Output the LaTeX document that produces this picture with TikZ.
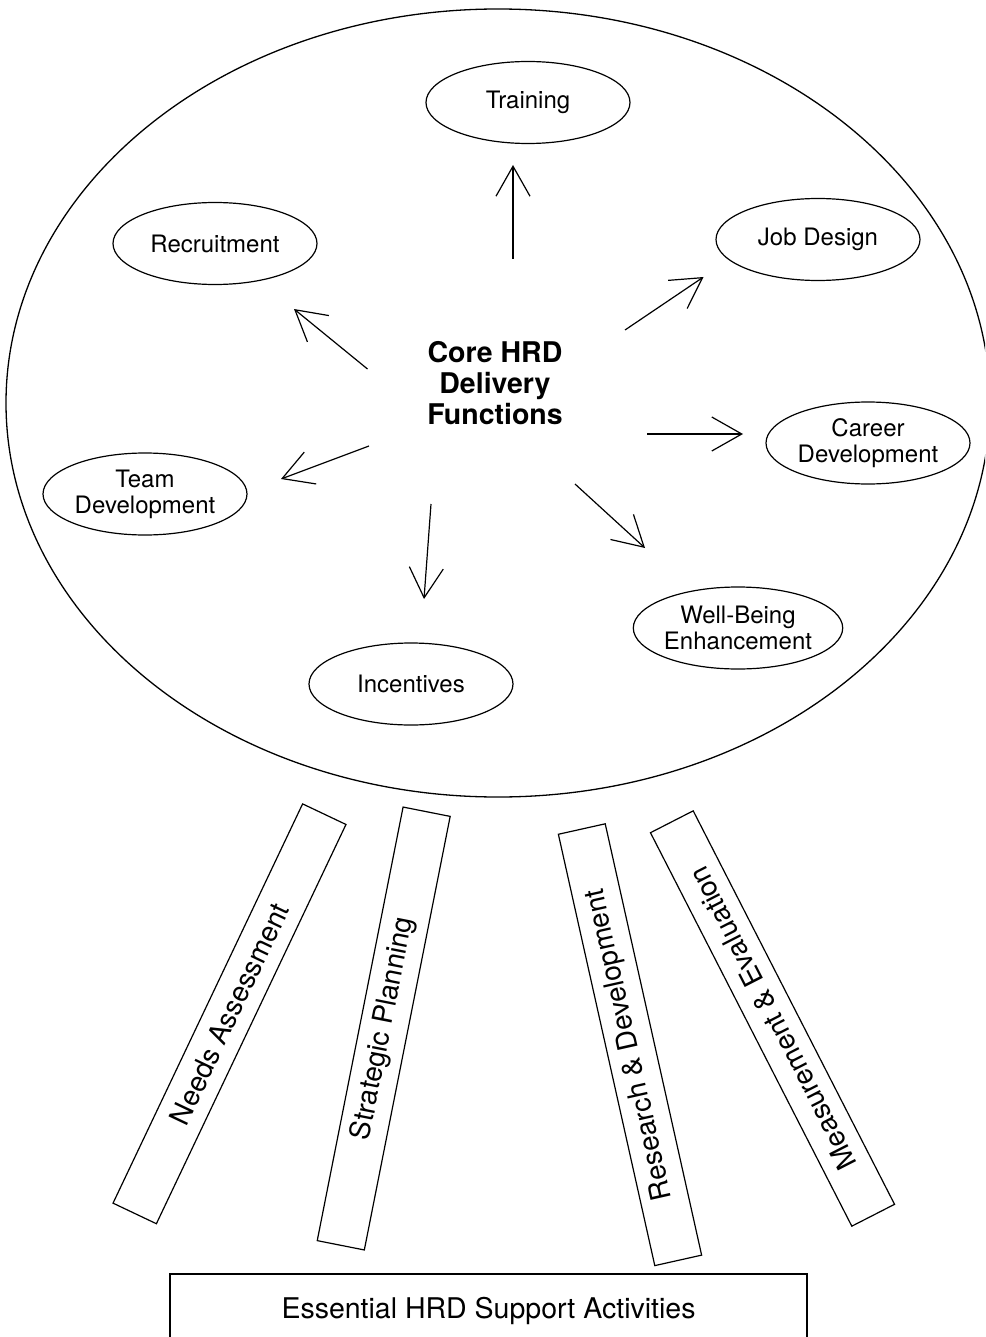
\documentclass[tikz,border=0pt]{standalone}
\usepackage{fontspec}
\setmainfont{TeX Gyre Heros}
\usetikzlibrary{arrows.meta,shapes.geometric}
\begin{document}
\begin{tikzpicture}[x=1pt,y=1pt,
  func/.style={ellipse, draw, line width=1.2pt, minimum width=204pt, minimum height=82pt,
               inner sep=0pt, align=center, font=\fontsize{24}{26}\selectfont},
  pillar/.style={rectangle, draw, line width=1.2pt, minimum width=442pt, minimum height=48pt,
                 inner sep=0pt, font=\fontsize{28}{30}\selectfont},
  arr/.style={line width=1.2pt, -{Straight Barb[length=30pt,width=34pt]}},
]
\clip (0,0) rectangle (985,-1337);

% the large oval holding the delivery functions
\node[ellipse, draw, line width=1.3pt, minimum width=984pt, minimum height=788pt, inner sep=0pt]
  (core) at (498,-403) {};
\node[font=\bfseries\fontsize{28.5}{31}\selectfont, align=center] (coretext) at (495,-383)
  {Core HRD\\Delivery\\Functions};

% delivery functions
\node[func] (training)  at (528,-102.5) {Training};
\node[func] (recruit)   at (215,-243.5) {Recruitment};
\node[func] (jobdesign) at (818,-239.5) {Job Design};
\node[func] (career)    at (868,-443)   {Career\\Development};
\node[func] (team)      at (145,-494)   {Team\\Development};
\node[func] (incent)    at (411,-684)   {Incentives};
\node[func] (wellbeing) at (738,-628)   {Well-Being\\Enhancement};

% arrow end points around the centre text
\coordinate (tr-a) at (513,-259);   \coordinate (tr-b) at (513,-165);
\coordinate (jd-a) at (625,-330);   \coordinate (jd-b) at (703.5,-277);
\coordinate (rc-a) at (367.5,-369); \coordinate (rc-b) at (294,-309);
\coordinate (cd-a) at (647,-434);   \coordinate (cd-b) at (743,-434);
\coordinate (td-a) at (369,-446);   \coordinate (td-b) at (281,-479);
\coordinate (ic-a) at (431,-504);   \coordinate (ic-b) at (424,-599);
\coordinate (wb-a) at (575,-484);   \coordinate (wb-b) at (645,-548);

\draw[arr] (tr-a) -- (tr-b);
\draw[arr] (jd-a) -- (jd-b);
\draw[arr] (rc-a) -- (rc-b);
\draw[arr] (cd-a) -- (cd-b);
\draw[arr] (td-a) -- (td-b);
\draw[arr] (ic-a) -- (ic-b);
\draw[arr] (wb-a) -- (wb-b);

% supporting pillars
\node[pillar, rotate=64.6]  (needs)    at (229.5,-1013.8) {Needs Assessment};
\node[pillar, rotate=78.8]  (strategy) at (383.7,-1028.5) {Strategic Planning};
\node[pillar, rotate=102.6] (research) at (630,-1044.7)   {Research \& Development};
\node[pillar, rotate=117.1] (measure)  at (772.5,-1018.5) {Measurement \& Evaluation};

% base
\node[draw, line width=1.2pt, minimum width=637pt, minimum height=74pt, inner sep=0pt,
      font=\fontsize{28.5}{30}\selectfont] (support) at (488.5,-1311)
  {Essential HRD Support Activities};
\end{tikzpicture}
\end{document}
